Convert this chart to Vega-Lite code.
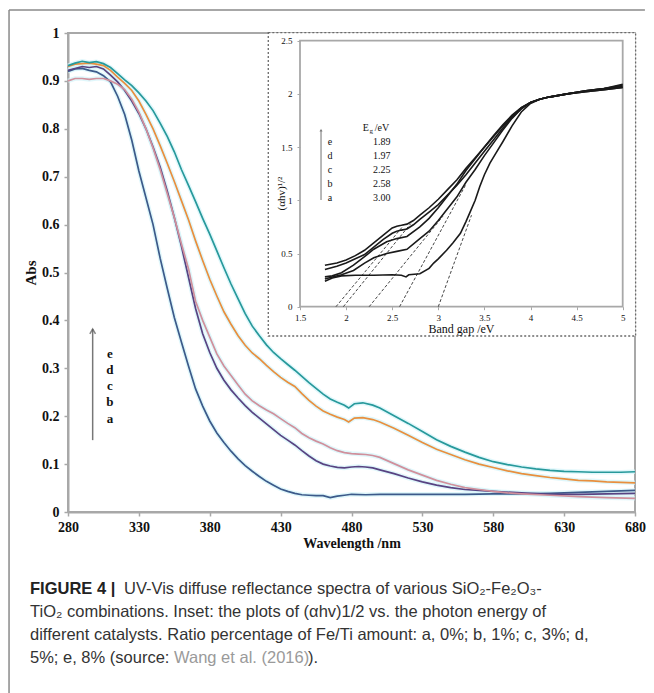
{
  "$schema": "https://vega.github.io/schema/vega-lite/v6.json",
  "width": 567,
  "height": 479,
  "autosize": "none",
  "padding": {"left": 68, "top": 33, "right": 19, "bottom": 181},
  "background": "white",
  "config": {
    "view": {"stroke": "#a8a8a8", "strokeWidth": 2},
    "axis": {"grid": false, "domainColor": "#a8a8a8", "domainWidth": 2, "tickColor": "#a8a8a8", "tickWidth": 1.5, "tickSize": 4, "labelFont": "Liberation Serif", "titleFont": "Liberation Serif", "labelColor": "#111", "titleColor": "#111"}
  },
  "datasets": {
    "main": [
      {"s":"a","w":280,"v":0.920},{"s":"a","w":285,"v":0.925},{"s":"a","w":290,"v":0.926},{"s":"a","w":295,"v":0.922},{"s":"a","w":300,"v":0.919},{"s":"a","w":305,"v":0.911},{"s":"a","w":310,"v":0.898},{"s":"a","w":315,"v":0.868},{"s":"a","w":320,"v":0.830},{"s":"a","w":325,"v":0.776},{"s":"a","w":330,"v":0.712},{"s":"a","w":335,"v":0.656},{"s":"a","w":340,"v":0.600},{"s":"a","w":345,"v":0.530},{"s":"a","w":350,"v":0.467},{"s":"a","w":355,"v":0.406},{"s":"a","w":360,"v":0.355},{"s":"a","w":365,"v":0.305},{"s":"a","w":370,"v":0.257},{"s":"a","w":375,"v":0.221},{"s":"a","w":380,"v":0.190},{"s":"a","w":385,"v":0.165},{"s":"a","w":390,"v":0.145},{"s":"a","w":395,"v":0.127},{"s":"a","w":400,"v":0.111},{"s":"a","w":405,"v":0.097},{"s":"a","w":410,"v":0.085},{"s":"a","w":415,"v":0.074},{"s":"a","w":420,"v":0.064},{"s":"a","w":425,"v":0.056},{"s":"a","w":430,"v":0.048},{"s":"a","w":435,"v":0.043},{"s":"a","w":440,"v":0.039},{"s":"a","w":445,"v":0.036},{"s":"a","w":450,"v":0.035},{"s":"a","w":455,"v":0.034},{"s":"a","w":460,"v":0.034},{"s":"a","w":465,"v":0.030},{"s":"a","w":470,"v":0.033},{"s":"a","w":475,"v":0.035},{"s":"a","w":480,"v":0.037},{"s":"a","w":490,"v":0.036},{"s":"a","w":500,"v":0.037},{"s":"a","w":520,"v":0.037},{"s":"a","w":540,"v":0.037},{"s":"a","w":560,"v":0.037},{"s":"a","w":580,"v":0.038},{"s":"a","w":600,"v":0.038},{"s":"a","w":620,"v":0.039},{"s":"a","w":640,"v":0.041},{"s":"a","w":660,"v":0.043},{"s":"a","w":680,"v":0.045},
      {"s":"b","w":280,"v":0.922},{"s":"b","w":285,"v":0.926},{"s":"b","w":290,"v":0.930},{"s":"b","w":295,"v":0.928},{"s":"b","w":300,"v":0.930},{"s":"b","w":305,"v":0.925},{"s":"b","w":310,"v":0.912},{"s":"b","w":315,"v":0.898},{"s":"b","w":320,"v":0.880},{"s":"b","w":325,"v":0.858},{"s":"b","w":330,"v":0.832},{"s":"b","w":335,"v":0.800},{"s":"b","w":340,"v":0.762},{"s":"b","w":345,"v":0.720},{"s":"b","w":350,"v":0.670},{"s":"b","w":355,"v":0.615},{"s":"b","w":360,"v":0.555},{"s":"b","w":365,"v":0.490},{"s":"b","w":370,"v":0.425},{"s":"b","w":375,"v":0.372},{"s":"b","w":380,"v":0.333},{"s":"b","w":385,"v":0.300},{"s":"b","w":390,"v":0.275},{"s":"b","w":395,"v":0.255},{"s":"b","w":400,"v":0.238},{"s":"b","w":405,"v":0.222},{"s":"b","w":410,"v":0.208},{"s":"b","w":415,"v":0.196},{"s":"b","w":420,"v":0.184},{"s":"b","w":425,"v":0.172},{"s":"b","w":430,"v":0.160},{"s":"b","w":435,"v":0.150},{"s":"b","w":440,"v":0.140},{"s":"b","w":445,"v":0.128},{"s":"b","w":450,"v":0.117},{"s":"b","w":455,"v":0.107},{"s":"b","w":460,"v":0.100},{"s":"b","w":465,"v":0.096},{"s":"b","w":470,"v":0.093},{"s":"b","w":475,"v":0.092},{"s":"b","w":480,"v":0.094},{"s":"b","w":485,"v":0.095},{"s":"b","w":490,"v":0.094},{"s":"b","w":495,"v":0.092},{"s":"b","w":500,"v":0.088},{"s":"b","w":510,"v":0.080},{"s":"b","w":520,"v":0.071},{"s":"b","w":530,"v":0.063},{"s":"b","w":540,"v":0.056},{"s":"b","w":550,"v":0.051},{"s":"b","w":560,"v":0.047},{"s":"b","w":570,"v":0.045},{"s":"b","w":580,"v":0.043},{"s":"b","w":600,"v":0.040},{"s":"b","w":620,"v":0.037},{"s":"b","w":640,"v":0.037},{"s":"b","w":660,"v":0.038},{"s":"b","w":680,"v":0.039},
      {"s":"c","w":280,"v":0.900},{"s":"c","w":285,"v":0.905},{"s":"c","w":290,"v":0.905},{"s":"c","w":295,"v":0.903},{"s":"c","w":300,"v":0.905},{"s":"c","w":305,"v":0.905},{"s":"c","w":310,"v":0.900},{"s":"c","w":315,"v":0.893},{"s":"c","w":320,"v":0.882},{"s":"c","w":325,"v":0.862},{"s":"c","w":330,"v":0.835},{"s":"c","w":335,"v":0.800},{"s":"c","w":340,"v":0.760},{"s":"c","w":345,"v":0.715},{"s":"c","w":350,"v":0.665},{"s":"c","w":355,"v":0.615},{"s":"c","w":360,"v":0.560},{"s":"c","w":365,"v":0.508},{"s":"c","w":370,"v":0.440},{"s":"c","w":375,"v":0.400},{"s":"c","w":380,"v":0.365},{"s":"c","w":385,"v":0.330},{"s":"c","w":390,"v":0.305},{"s":"c","w":395,"v":0.285},{"s":"c","w":400,"v":0.265},{"s":"c","w":405,"v":0.246},{"s":"c","w":410,"v":0.232},{"s":"c","w":415,"v":0.222},{"s":"c","w":420,"v":0.213},{"s":"c","w":425,"v":0.205},{"s":"c","w":430,"v":0.195},{"s":"c","w":435,"v":0.185},{"s":"c","w":440,"v":0.176},{"s":"c","w":445,"v":0.164},{"s":"c","w":450,"v":0.155},{"s":"c","w":455,"v":0.148},{"s":"c","w":460,"v":0.142},{"s":"c","w":465,"v":0.134},{"s":"c","w":470,"v":0.128},{"s":"c","w":475,"v":0.124},{"s":"c","w":480,"v":0.122},{"s":"c","w":485,"v":0.121},{"s":"c","w":490,"v":0.120},{"s":"c","w":495,"v":0.118},{"s":"c","w":500,"v":0.114},{"s":"c","w":510,"v":0.101},{"s":"c","w":520,"v":0.088},{"s":"c","w":530,"v":0.077},{"s":"c","w":540,"v":0.066},{"s":"c","w":550,"v":0.058},{"s":"c","w":560,"v":0.051},{"s":"c","w":570,"v":0.047},{"s":"c","w":580,"v":0.043},{"s":"c","w":590,"v":0.040},{"s":"c","w":600,"v":0.038},{"s":"c","w":620,"v":0.035},{"s":"c","w":640,"v":0.032},{"s":"c","w":660,"v":0.030},{"s":"c","w":680,"v":0.0285},
      {"s":"d","w":280,"v":0.930},{"s":"d","w":285,"v":0.935},{"s":"d","w":290,"v":0.936},{"s":"d","w":295,"v":0.937},{"s":"d","w":300,"v":0.935},{"s":"d","w":305,"v":0.932},{"s":"d","w":310,"v":0.922},{"s":"d","w":315,"v":0.908},{"s":"d","w":320,"v":0.895},{"s":"d","w":325,"v":0.880},{"s":"d","w":330,"v":0.858},{"s":"d","w":335,"v":0.830},{"s":"d","w":340,"v":0.800},{"s":"d","w":345,"v":0.765},{"s":"d","w":350,"v":0.728},{"s":"d","w":355,"v":0.690},{"s":"d","w":360,"v":0.650},{"s":"d","w":365,"v":0.610},{"s":"d","w":370,"v":0.566},{"s":"d","w":375,"v":0.525},{"s":"d","w":380,"v":0.486},{"s":"d","w":385,"v":0.451},{"s":"d","w":390,"v":0.418},{"s":"d","w":395,"v":0.392},{"s":"d","w":400,"v":0.368},{"s":"d","w":405,"v":0.348},{"s":"d","w":410,"v":0.332},{"s":"d","w":415,"v":0.320},{"s":"d","w":420,"v":0.306},{"s":"d","w":425,"v":0.293},{"s":"d","w":430,"v":0.281},{"s":"d","w":435,"v":0.271},{"s":"d","w":440,"v":0.262},{"s":"d","w":445,"v":0.247},{"s":"d","w":450,"v":0.233},{"s":"d","w":455,"v":0.221},{"s":"d","w":460,"v":0.211},{"s":"d","w":465,"v":0.204},{"s":"d","w":470,"v":0.198},{"s":"d","w":475,"v":0.193},{"s":"d","w":478,"v":0.188},{"s":"d","w":482,"v":0.196},{"s":"d","w":488,"v":0.197},{"s":"d","w":495,"v":0.193},{"s":"d","w":500,"v":0.188},{"s":"d","w":510,"v":0.175},{"s":"d","w":520,"v":0.160},{"s":"d","w":530,"v":0.145},{"s":"d","w":540,"v":0.131},{"s":"d","w":550,"v":0.120},{"s":"d","w":560,"v":0.109},{"s":"d","w":570,"v":0.100},{"s":"d","w":580,"v":0.093},{"s":"d","w":590,"v":0.086},{"s":"d","w":600,"v":0.080},{"s":"d","w":610,"v":0.076},{"s":"d","w":620,"v":0.072},{"s":"d","w":630,"v":0.069},{"s":"d","w":640,"v":0.066},{"s":"d","w":650,"v":0.065},{"s":"d","w":660,"v":0.063},{"s":"d","w":670,"v":0.062},{"s":"d","w":680,"v":0.061},
      {"s":"e","w":280,"v":0.932},{"s":"e","w":285,"v":0.937},{"s":"e","w":290,"v":0.941},{"s":"e","w":295,"v":0.938},{"s":"e","w":300,"v":0.940},{"s":"e","w":305,"v":0.936},{"s":"e","w":310,"v":0.928},{"s":"e","w":315,"v":0.915},{"s":"e","w":320,"v":0.902},{"s":"e","w":325,"v":0.890},{"s":"e","w":330,"v":0.875},{"s":"e","w":335,"v":0.858},{"s":"e","w":340,"v":0.838},{"s":"e","w":345,"v":0.812},{"s":"e","w":350,"v":0.784},{"s":"e","w":355,"v":0.752},{"s":"e","w":360,"v":0.715},{"s":"e","w":365,"v":0.682},{"s":"e","w":370,"v":0.648},{"s":"e","w":375,"v":0.613},{"s":"e","w":380,"v":0.580},{"s":"e","w":385,"v":0.545},{"s":"e","w":390,"v":0.510},{"s":"e","w":395,"v":0.476},{"s":"e","w":400,"v":0.445},{"s":"e","w":405,"v":0.414},{"s":"e","w":410,"v":0.388},{"s":"e","w":415,"v":0.368},{"s":"e","w":420,"v":0.349},{"s":"e","w":425,"v":0.333},{"s":"e","w":430,"v":0.320},{"s":"e","w":435,"v":0.308},{"s":"e","w":440,"v":0.296},{"s":"e","w":445,"v":0.283},{"s":"e","w":450,"v":0.270},{"s":"e","w":455,"v":0.258},{"s":"e","w":460,"v":0.246},{"s":"e","w":465,"v":0.236},{"s":"e","w":470,"v":0.229},{"s":"e","w":475,"v":0.223},{"s":"e","w":478,"v":0.217},{"s":"e","w":482,"v":0.226},{"s":"e","w":488,"v":0.228},{"s":"e","w":495,"v":0.223},{"s":"e","w":500,"v":0.217},{"s":"e","w":510,"v":0.201},{"s":"e","w":520,"v":0.185},{"s":"e","w":530,"v":0.168},{"s":"e","w":540,"v":0.151},{"s":"e","w":550,"v":0.137},{"s":"e","w":560,"v":0.125},{"s":"e","w":570,"v":0.114},{"s":"e","w":580,"v":0.105},{"s":"e","w":590,"v":0.099},{"s":"e","w":600,"v":0.094},{"s":"e","w":610,"v":0.090},{"s":"e","w":620,"v":0.087},{"s":"e","w":630,"v":0.085},{"s":"e","w":640,"v":0.084},{"s":"e","w":650,"v":0.083},{"s":"e","w":660,"v":0.083},{"s":"e","w":670,"v":0.083},{"s":"e","w":680,"v":0.084}
    ],
    "ins": [
      {"s":"e","x":1.77,"y":0.39},{"s":"e","x":1.9,"y":0.41},{"s":"e","x":2.0,"y":0.44},{"s":"e","x":2.1,"y":0.48},{"s":"e","x":2.2,"y":0.53},{"s":"e","x":2.3,"y":0.6},{"s":"e","x":2.4,"y":0.67},{"s":"e","x":2.5,"y":0.74},{"s":"e","x":2.55,"y":0.757},{"s":"e","x":2.6,"y":0.765},{"s":"e","x":2.66,"y":0.776},{"s":"e","x":2.73,"y":0.81},{"s":"e","x":2.8,"y":0.86},{"s":"e","x":2.9,"y":0.93},{"s":"e","x":3.0,"y":1.01},{"s":"e","x":3.1,"y":1.1},{"s":"e","x":3.2,"y":1.19},{"s":"e","x":3.3,"y":1.3},{"s":"e","x":3.4,"y":1.4},{"s":"e","x":3.5,"y":1.5},{"s":"e","x":3.6,"y":1.6},{"s":"e","x":3.7,"y":1.7},{"s":"e","x":3.8,"y":1.79},{"s":"e","x":3.9,"y":1.87},{"s":"e","x":4.0,"y":1.92},{"s":"e","x":4.1,"y":1.95},{"s":"e","x":4.2,"y":1.97},{"s":"e","x":4.4,"y":2.0},{"s":"e","x":4.6,"y":2.03},{"s":"e","x":4.8,"y":2.05},{"s":"e","x":5.0,"y":2.07},
      {"s":"d","x":1.77,"y":0.35},{"s":"d","x":1.9,"y":0.38},{"s":"d","x":2.0,"y":0.41},{"s":"d","x":2.1,"y":0.45},{"s":"d","x":2.2,"y":0.49},{"s":"d","x":2.3,"y":0.56},{"s":"d","x":2.4,"y":0.63},{"s":"d","x":2.5,"y":0.69},{"s":"d","x":2.55,"y":0.71},{"s":"d","x":2.6,"y":0.72},{"s":"d","x":2.66,"y":0.73},{"s":"d","x":2.73,"y":0.77},{"s":"d","x":2.8,"y":0.82},{"s":"d","x":2.9,"y":0.89},{"s":"d","x":3.0,"y":0.96},{"s":"d","x":3.1,"y":1.05},{"s":"d","x":3.2,"y":1.14},{"s":"d","x":3.3,"y":1.24},{"s":"d","x":3.4,"y":1.35},{"s":"d","x":3.5,"y":1.46},{"s":"d","x":3.6,"y":1.57},{"s":"d","x":3.7,"y":1.68},{"s":"d","x":3.8,"y":1.78},{"s":"d","x":3.9,"y":1.86},{"s":"d","x":4.0,"y":1.92},{"s":"d","x":4.1,"y":1.95},{"s":"d","x":4.2,"y":1.97},{"s":"d","x":4.4,"y":2.0},{"s":"d","x":4.6,"y":2.02},{"s":"d","x":4.8,"y":2.04},{"s":"d","x":5.0,"y":2.06},
      {"s":"c","x":1.77,"y":0.28},{"s":"c","x":1.85,"y":0.29},{"s":"c","x":1.95,"y":0.32},{"s":"c","x":2.08,"y":0.39},{"s":"c","x":2.2,"y":0.47},{"s":"c","x":2.3,"y":0.54},{"s":"c","x":2.44,"y":0.61},{"s":"c","x":2.55,"y":0.64},{"s":"c","x":2.66,"y":0.66},{"s":"c","x":2.8,"y":0.75},{"s":"c","x":2.9,"y":0.83},{"s":"c","x":3.0,"y":0.93},{"s":"c","x":3.1,"y":1.04},{"s":"c","x":3.2,"y":1.15},{"s":"c","x":3.3,"y":1.28},{"s":"c","x":3.4,"y":1.39},{"s":"c","x":3.5,"y":1.5},{"s":"c","x":3.6,"y":1.61},{"s":"c","x":3.7,"y":1.71},{"s":"c","x":3.8,"y":1.8},{"s":"c","x":3.9,"y":1.87},{"s":"c","x":4.0,"y":1.92},{"s":"c","x":4.1,"y":1.95},{"s":"c","x":4.2,"y":1.97},{"s":"c","x":4.4,"y":2.0},{"s":"c","x":4.6,"y":2.03},{"s":"c","x":4.8,"y":2.05},{"s":"c","x":5.0,"y":2.08},
      {"s":"b","x":1.77,"y":0.26},{"s":"b","x":1.85,"y":0.28},{"s":"b","x":1.95,"y":0.3},{"s":"b","x":2.08,"y":0.34},{"s":"b","x":2.2,"y":0.41},{"s":"b","x":2.3,"y":0.46},{"s":"b","x":2.44,"y":0.5},{"s":"b","x":2.55,"y":0.52},{"s":"b","x":2.66,"y":0.54},{"s":"b","x":2.8,"y":0.64},{"s":"b","x":2.9,"y":0.71},{"s":"b","x":3.0,"y":0.81},{"s":"b","x":3.1,"y":0.92},{"s":"b","x":3.2,"y":1.03},{"s":"b","x":3.3,"y":1.17},{"s":"b","x":3.4,"y":1.29},{"s":"b","x":3.5,"y":1.42},{"s":"b","x":3.6,"y":1.54},{"s":"b","x":3.7,"y":1.66},{"s":"b","x":3.8,"y":1.77},{"s":"b","x":3.9,"y":1.86},{"s":"b","x":4.0,"y":1.92},{"s":"b","x":4.1,"y":1.95},{"s":"b","x":4.2,"y":1.97},{"s":"b","x":4.4,"y":2.0},{"s":"b","x":4.6,"y":2.02},{"s":"b","x":4.8,"y":2.04},{"s":"b","x":5.0,"y":2.06},
      {"s":"a","x":1.77,"y":0.24},{"s":"a","x":1.85,"y":0.27},{"s":"a","x":1.95,"y":0.29},{"s":"a","x":2.1,"y":0.295},{"s":"a","x":2.3,"y":0.295},{"s":"a","x":2.5,"y":0.3},{"s":"a","x":2.6,"y":0.295},{"s":"a","x":2.65,"y":0.28},{"s":"a","x":2.68,"y":0.3},{"s":"a","x":2.8,"y":0.31},{"s":"a","x":2.9,"y":0.36},{"s":"a","x":2.95,"y":0.41},{"s":"a","x":3.0,"y":0.45},{"s":"a","x":3.09,"y":0.53},{"s":"a","x":3.16,"y":0.6},{"s":"a","x":3.24,"y":0.69},{"s":"a","x":3.3,"y":0.8},{"s":"a","x":3.34,"y":0.88},{"s":"a","x":3.4,"y":1.0},{"s":"a","x":3.45,"y":1.13},{"s":"a","x":3.5,"y":1.24},{"s":"a","x":3.56,"y":1.35},{"s":"a","x":3.63,"y":1.45},{"s":"a","x":3.7,"y":1.55},{"s":"a","x":3.8,"y":1.7},{"s":"a","x":3.9,"y":1.83},{"s":"a","x":4.0,"y":1.91},{"s":"a","x":4.1,"y":1.95},{"s":"a","x":4.2,"y":1.97},{"s":"a","x":4.4,"y":2.0},{"s":"a","x":4.6,"y":2.03},{"s":"a","x":4.8,"y":2.05},{"s":"a","x":5.0,"y":2.09}
    ],
    "tang": [
      {"s":"e","x":1.89,"y":0,"x2":2.62,"y2":0.76},
      {"s":"d","x":1.97,"y":0,"x2":2.70,"y2":0.78},
      {"s":"c","x":2.25,"y":0,"x2":3.05,"y2":0.85},
      {"s":"b","x":2.58,"y":0,"x2":3.30,"y2":1.15},
      {"s":"a","x":3.00,"y":0,"x2":3.36,"y2":0.86}
    ]
  },
  "layer": [
    {
      "layer": [
        {
          "data": {"name": "main"},
          "mark": {"type": "line", "strokeWidth": 4.5, "opacity": 0.7, "color": "#d3f3fa"},
          "encoding": {
            "x": {"field": "w", "type": "quantitative", "scale": {"domain": [280, 680], "nice": false, "zero": false},
              "axis": {"title": "Wavelength /nm", "values": [280, 330, 380, 430, 480, 530, 580, 630, 680], "format": "d", "labelFlush": false, "labelFontWeight": "bold", "labelFontSize": 14, "labelPadding": 4, "titleFontWeight": "bold", "titleFontSize": 14, "titlePadding": 2}},
            "y": {"field": "v", "type": "quantitative", "scale": {"domain": [0, 1], "nice": false, "zero": false},
              "axis": {"title": "Abs", "values": [0, 0.1, 0.2, 0.3, 0.4, 0.5, 0.6, 0.7, 0.8, 0.9, 1], "format": "~g", "labelFontWeight": "bold", "labelFontSize": 14, "labelPadding": 5, "titleFontWeight": "bold", "titleFontSize": 15, "titlePadding": 3}},
            "detail": {"field": "s"}
          }
        },
        {
          "data": {"name": "main"},
          "mark": {"type": "line", "strokeWidth": 1.7},
          "encoding": {
            "x": {"field": "w", "type": "quantitative", "scale": {"domain": [280, 680], "nice": false, "zero": false}},
            "y": {"field": "v", "type": "quantitative", "scale": {"domain": [0, 1], "nice": false, "zero": false}},
            "color": {"field": "s", "type": "nominal", "scale": {"domain": ["a", "b", "c", "d", "e"], "range": ["#3c5a8a", "#584382", "#d0909c", "#e88f3e", "#27999b"]}, "legend": null}
          }
        },
        {
          "data": {"values": [{}]},
          "mark": {"type": "rule", "color": "#777", "strokeWidth": 1.5},
          "encoding": {
            "x": {"datum": 297.4, "type": "quantitative", "scale": {"domain": [280, 680], "nice": false, "zero": false}},
            "y": {"datum": 0.15, "type": "quantitative", "scale": {"domain": [0, 1], "nice": false, "zero": false}},
            "y2": {"datum": 0.382}
          }
        },
        {
          "data": {"values": [{}]},
          "mark": {"type": "point", "shape": "M-0.8,1L0,-0.4L0.8,1", "filled": false, "color": "#555", "strokeWidth": 1.5, "size": 50},
          "encoding": {
            "x": {"datum": 297.4, "type": "quantitative", "scale": {"domain": [280, 680], "nice": false, "zero": false}},
            "y": {"datum": 0.379, "type": "quantitative", "scale": {"domain": [0, 1], "nice": false, "zero": false}}
          }
        },
        {
          "data": {"values": [{}]},
          "mark": {"type": "text", "font": "Liberation Serif", "fontWeight": "bold", "fontSize": 13, "align": "center", "baseline": "top", "lineHeight": 16.3, "color": "#111"},
          "encoding": {
            "x": {"datum": 309.6, "type": "quantitative", "scale": {"domain": [280, 680], "nice": false, "zero": false}},
            "y": {"datum": 0.3434, "type": "quantitative", "scale": {"domain": [0, 1], "nice": false, "zero": false}},
            "text": {"value": ["e", "d", "c", "b", "a"]}
          }
        },
        {
          "data": {"values": [{}]},
          "mark": {"type": "rule", "color": "#8a8a8a", "strokeWidth": 1.5},
          "encoding": {
            "x": {"datum": 238.4, "type": "quantitative", "scale": {"domain": [280, 680], "nice": false, "zero": false}},
            "x2": {"datum": 687.0},
            "y": {"datum": 1.048, "type": "quantitative", "scale": {"domain": [0, 1], "nice": false, "zero": false}}
          }
        },
        {
          "data": {"values": [{}]},
          "mark": {"type": "rule", "color": "#8a8a8a", "strokeWidth": 1.5},
          "encoding": {
            "x": {"datum": 238.4, "type": "quantitative", "scale": {"domain": [280, 680], "nice": false, "zero": false}},
            "y": {"datum": 1.048, "type": "quantitative", "scale": {"domain": [0, 1], "nice": false, "zero": false}},
            "y2": {"datum": -0.42}
          }
        },
        {
          "data": {"values": [{}]},
          "mark": {"type": "text", "font": "Liberation Sans", "fontWeight": "bold", "fontSize": 16.5, "align": "left", "baseline": "middle", "color": "#222"},
          "encoding": {
            "x": {"datum": 253.2, "type": "quantitative", "scale": {"domain": [280, 680], "nice": false, "zero": false}},
            "y": {"datum": -0.1608, "type": "quantitative", "scale": {"domain": [0, 1], "nice": false, "zero": false}},
            "text": {"value": "FIGURE 4 |"}
          }
        },
        {
          "data": {"values": [{}]},
          "mark": {"type": "text", "font": "Liberation Sans", "fontSize": 16.5, "align": "left", "baseline": "middle", "color": "#333"},
          "encoding": {
            "x": {"datum": 319.5, "type": "quantitative", "scale": {"domain": [280, 680], "nice": false, "zero": false}},
            "y": {"datum": -0.1608, "type": "quantitative", "scale": {"domain": [0, 1], "nice": false, "zero": false}},
            "text": {"value": "UV-Vis diffuse reflectance spectra of various SiO₂-Fe₂O₃-"}
          }
        },
        {
          "data": {"values": [{}]},
          "mark": {"type": "text", "font": "Liberation Sans", "fontSize": 16.5, "align": "left", "baseline": "middle", "color": "#333"},
          "encoding": {
            "x": {"datum": 253.2, "type": "quantitative", "scale": {"domain": [280, 680], "nice": false, "zero": false}},
            "y": {"datum": -0.2088, "type": "quantitative", "scale": {"domain": [0, 1], "nice": false, "zero": false}},
            "text": {"value": "TiO₂ combinations. Inset: the plots of (αhv)1/2 vs. the photon energy of"}
          }
        },
        {
          "data": {"values": [{}]},
          "mark": {"type": "text", "font": "Liberation Sans", "fontSize": 16.5, "align": "left", "baseline": "middle", "color": "#333"},
          "encoding": {
            "x": {"datum": 253.2, "type": "quantitative", "scale": {"domain": [280, 680], "nice": false, "zero": false}},
            "y": {"datum": -0.2568, "type": "quantitative", "scale": {"domain": [0, 1], "nice": false, "zero": false}},
            "text": {"value": "different catalysts. Ratio percentage of Fe/Ti amount: a, 0%; b, 1%; c, 3%; d,"}
          }
        },
        {
          "data": {"values": [{}]},
          "mark": {"type": "text", "font": "Liberation Sans", "fontSize": 16.5, "align": "left", "baseline": "middle", "color": "#333"},
          "encoding": {
            "x": {"datum": 253.2, "type": "quantitative", "scale": {"domain": [280, 680], "nice": false, "zero": false}},
            "y": {"datum": -0.3038, "type": "quantitative", "scale": {"domain": [0, 1], "nice": false, "zero": false}},
            "text": {"value": "5%; e, 8% (source:"}
          }
        },
        {
          "data": {"values": [{}]},
          "mark": {"type": "text", "font": "Liberation Sans", "fontSize": 16.5, "align": "left", "baseline": "middle", "color": "#9a9a9a"},
          "encoding": {
            "x": {"datum": 354.8, "type": "quantitative", "scale": {"domain": [280, 680], "nice": false, "zero": false}},
            "y": {"datum": -0.3038, "type": "quantitative", "scale": {"domain": [0, 1], "nice": false, "zero": false}},
            "text": {"value": "Wang et al. (2016)"}
          }
        },
        {
          "data": {"values": [{}]},
          "mark": {"type": "text", "font": "Liberation Sans", "fontSize": 16.5, "align": "left", "baseline": "middle", "color": "#333"},
          "encoding": {
            "x": {"datum": 449.3, "type": "quantitative", "scale": {"domain": [280, 680], "nice": false, "zero": false}},
            "y": {"datum": -0.3038, "type": "quantitative", "scale": {"domain": [0, 1], "nice": false, "zero": false}},
            "text": {"value": ")."}
          }
        }
      ]
    },
    {
      "layer": [
        {
          "data": {"values": [{}]},
          "mark": {"type": "rect", "fill": "white", "stroke": "#6a6a6a", "strokeWidth": 1.3, "strokeDash": [2, 2]},
          "encoding": {
            "x": {"datum": 1.156, "type": "quantitative", "scale": {"domain": [-1.0163, 5.1334], "nice": false, "zero": false},
              "axis": {"orient": "bottom", "offset": -205.3, "zindex": 2, "values": [1.5, 2, 2.5, 3, 3.5, 4, 4.5, 5], "format": "~g", "domain": false, "labelFlush": false, "labelFontSize": 9, "labelPadding": 4, "tickSize": 3, "tickWidth": 1, "title": "Band gap /eV", "titleFontWeight": "normal", "titleFontSize": 12, "titleX": 393, "titleY": 17, "titleBaseline": "top", "titleAlign": "center", "titleColor": "#111"}},
            "x2": {"datum": 5.14},
            "y": {"datum": 2.575, "type": "quantitative", "scale": {"domain": [-1.9295, 2.5724], "nice": false, "zero": false},
              "axis": {"orient": "left", "offset": -232, "zindex": 2, "values": [0, 0.5, 1, 1.5, 2, 2.5], "format": "~g", "domain": false, "labelFontSize": 9, "labelPadding": 5, "tickSize": 3, "tickWidth": 1, "title": "(αhv)¹/²", "titleFontWeight": "normal", "titleFontSize": 11, "titleX": -19, "titleY": 160, "titleAngle": 270, "titleBaseline": "middle", "titleAlign": "center"}},
            "y2": {"datum": -0.2754}
          }
        },
        {
          "data": {"values": [{}]},
          "mark": {"type": "rect", "filled": false, "color": "#a8a8a8", "strokeWidth": 1.8},
          "encoding": {
            "x": {"datum": 1.5, "type": "quantitative", "scale": {"domain": [-1.0163, 5.1334], "nice": false, "zero": false}},
            "x2": {"datum": 5},
            "y": {"datum": 0, "type": "quantitative", "scale": {"domain": [-1.9295, 2.5724], "nice": false, "zero": false}},
            "y2": {"datum": 2.5}
          }
        },
        {
          "data": {"name": "tang"},
          "mark": {"type": "rule", "color": "#444", "strokeWidth": 1, "strokeDash": [3, 2]},
          "encoding": {
            "x": {"field": "x", "type": "quantitative", "scale": {"domain": [-1.0163, 5.1334], "nice": false, "zero": false}},
            "x2": {"field": "x2"},
            "y": {"field": "y", "type": "quantitative", "scale": {"domain": [-1.9295, 2.5724], "nice": false, "zero": false}},
            "y2": {"field": "y2"}
          }
        },
        {
          "data": {"name": "ins"},
          "mark": {"type": "line", "color": "#1a1a1a", "strokeWidth": 1.6},
          "encoding": {
            "x": {"field": "x", "type": "quantitative", "scale": {"domain": [-1.0163, 5.1334], "nice": false, "zero": false}},
            "y": {"field": "y", "type": "quantitative", "scale": {"domain": [-1.9295, 2.5724], "nice": false, "zero": false}},
            "detail": {"field": "s"}
          }
        },
        {
          "data": {"values": [{}]},
          "mark": {"type": "rule", "color": "#888", "strokeWidth": 1.2},
          "encoding": {
            "x": {"datum": 1.728, "type": "quantitative", "scale": {"domain": [-1.0163, 5.1334], "nice": false, "zero": false}},
            "y": {"datum": 1.003, "type": "quantitative", "scale": {"domain": [-1.9295, 2.5724], "nice": false, "zero": false}},
            "y2": {"datum": 1.66}
          }
        },
        {
          "data": {"values": [{}]},
          "mark": {"type": "point", "shape": "triangle-up", "filled": true, "color": "#666", "size": 10},
          "encoding": {
            "x": {"datum": 1.728, "type": "quantitative", "scale": {"domain": [-1.0163, 5.1334], "nice": false, "zero": false}},
            "y": {"datum": 1.66, "type": "quantitative", "scale": {"domain": [-1.9295, 2.5724], "nice": false, "zero": false}}
          }
        },
        {
          "data": {"values": [{}]},
          "mark": {"type": "text", "font": "Liberation Serif", "fontSize": 10, "align": "center", "baseline": "top", "lineHeight": 14.15, "color": "#111"},
          "encoding": {
            "x": {"datum": 1.825, "type": "quantitative", "scale": {"domain": [-1.0163, 5.1334], "nice": false, "zero": false}},
            "y": {"datum": 1.598, "type": "quantitative", "scale": {"domain": [-1.9295, 2.5724], "nice": false, "zero": false}},
            "text": {"value": ["e", "d", "c", "b", "a"]}
          }
        },
        {
          "data": {"values": [{}]},
          "mark": {"type": "text", "font": "Liberation Serif", "fontSize": 10, "align": "center", "baseline": "top", "lineHeight": 14.15, "color": "#111"},
          "encoding": {
            "x": {"datum": 2.386, "type": "quantitative", "scale": {"domain": [-1.0163, 5.1334], "nice": false, "zero": false}},
            "y": {"datum": 1.598, "type": "quantitative", "scale": {"domain": [-1.9295, 2.5724], "nice": false, "zero": false}},
            "text": {"value": ["1.89", "1.97", "2.25", "2.58", "3.00"]}
          }
        },
        {
          "data": {"values": [{}]},
          "mark": {"type": "text", "font": "Liberation Serif", "fontSize": 10, "align": "left", "baseline": "middle", "color": "#111"},
          "encoding": {
            "x": {"datum": 2.18, "type": "quantitative", "scale": {"domain": [-1.0163, 5.1334], "nice": false, "zero": false}},
            "y": {"datum": 1.677, "type": "quantitative", "scale": {"domain": [-1.9295, 2.5724], "nice": false, "zero": false}},
            "text": {"value": "E"}
          }
        },
        {
          "data": {"values": [{}]},
          "mark": {"type": "text", "font": "Liberation Serif", "fontSize": 7, "align": "left", "baseline": "middle", "dy": 3, "color": "#111"},
          "encoding": {
            "x": {"datum": 2.255, "type": "quantitative", "scale": {"domain": [-1.0163, 5.1334], "nice": false, "zero": false}},
            "y": {"datum": 1.677, "type": "quantitative", "scale": {"domain": [-1.9295, 2.5724], "nice": false, "zero": false}},
            "text": {"value": "g"}
          }
        },
        {
          "data": {"values": [{}]},
          "mark": {"type": "text", "font": "Liberation Serif", "fontSize": 10, "align": "left", "baseline": "middle", "color": "#111"},
          "encoding": {
            "x": {"datum": 2.31, "type": "quantitative", "scale": {"domain": [-1.0163, 5.1334], "nice": false, "zero": false}},
            "y": {"datum": 1.677, "type": "quantitative", "scale": {"domain": [-1.9295, 2.5724], "nice": false, "zero": false}},
            "text": {"value": "/eV"}
          }
        }
      ]
    }
  ],
  "resolve": {"scale": {"x": "independent", "y": "independent", "color": "independent"}}
}
